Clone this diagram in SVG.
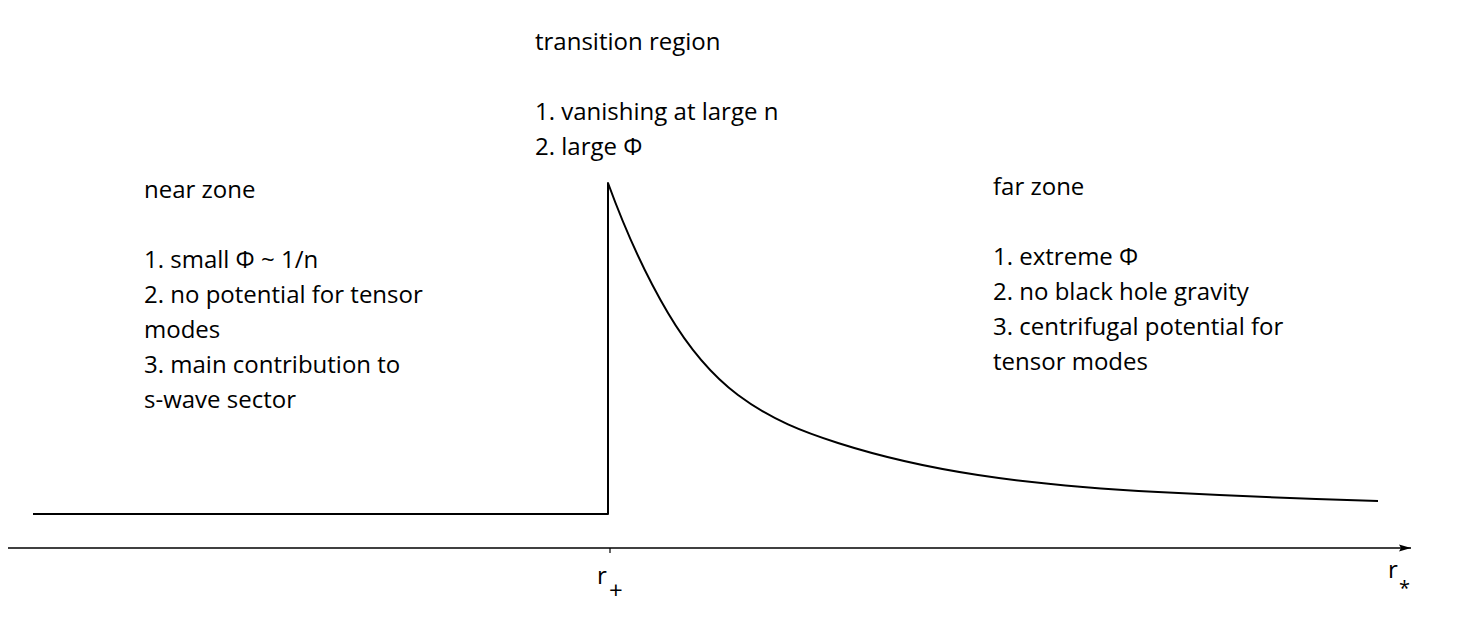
<svg xmlns="http://www.w3.org/2000/svg" width="1472" height="618" viewBox="0 0 1472 618">
<defs>
<style>
.t{font-family:"Open Sans","Liberation Sans",Arial,sans-serif;font-size:24px;fill:#000}
.ln{fill:none;stroke:#000;stroke-width:2;stroke-linejoin:round}
</style>
<marker id="ah" viewBox="0 0 12 8" refX="12" refY="4" markerWidth="12" markerHeight="8" markerUnits="userSpaceOnUse" orient="auto"><path d="M0,0.5 L12,4 L0,7.5 L2,4 Z" fill="#000"/></marker>
</defs>
<rect width="1472" height="618" fill="#fff"/>
<g id="connectors">
<path id="axis" d="M8,548 L1411,548" fill="none" stroke="#000" stroke-width="1.5" marker-end="url(#ah)"/>
<path id="tick" d="M610,548 L610,553" stroke="#000" stroke-width="1.2"/>
<path id="potential" class="ln" d="M33,514 L608,514 L608,183 C628,237.8 648,279.2 668,313 C691.33,352.4 714.67,377.5 738,395 C771.33,420 804.67,432.3 838,443 C884.67,457.9 931.33,467.9 978,475 C1038,484.2 1098,488.9 1158,492 C1231.33,495.8 1304.67,498.8 1378,501"/>
</g>
<g id="transition">
<text class="t" x="535" y="50">transition region</text>
<text class="t" x="535" y="120">1. vanishing at large n</text>
<text class="t" x="535" y="155">2. large Φ</text>
</g>
<g id="near">
<text class="t" x="144" y="198">near zone</text>
<text class="t" x="144" y="268">1. small Φ ~ 1/n</text>
<text class="t" x="144" y="303">2. no potential for tensor</text>
<text class="t" x="144" y="338">modes</text>
<text class="t" x="144" y="373">3. main contribution to</text>
<text class="t" x="144" y="408">s-wave sector</text>
</g>
<g id="far">
<text class="t" x="993" y="195">far zone</text>
<text class="t" x="993" y="265">1. extreme Φ</text>
<text class="t" x="993" y="300">2. no black hole gravity</text>
<text class="t" x="993" y="335">3. centrifugal potential for</text>
<text class="t" x="993" y="370">tensor modes</text>
</g>
<g id="labels">
<text class="t" x="597" y="584">r</text>
<text class="t" x="609" y="599">+</text>
<text class="t" x="1388" y="578">r</text>
<text class="t" x="1399" y="595" style="font-size:20px">*</text>
</g>
</svg>
